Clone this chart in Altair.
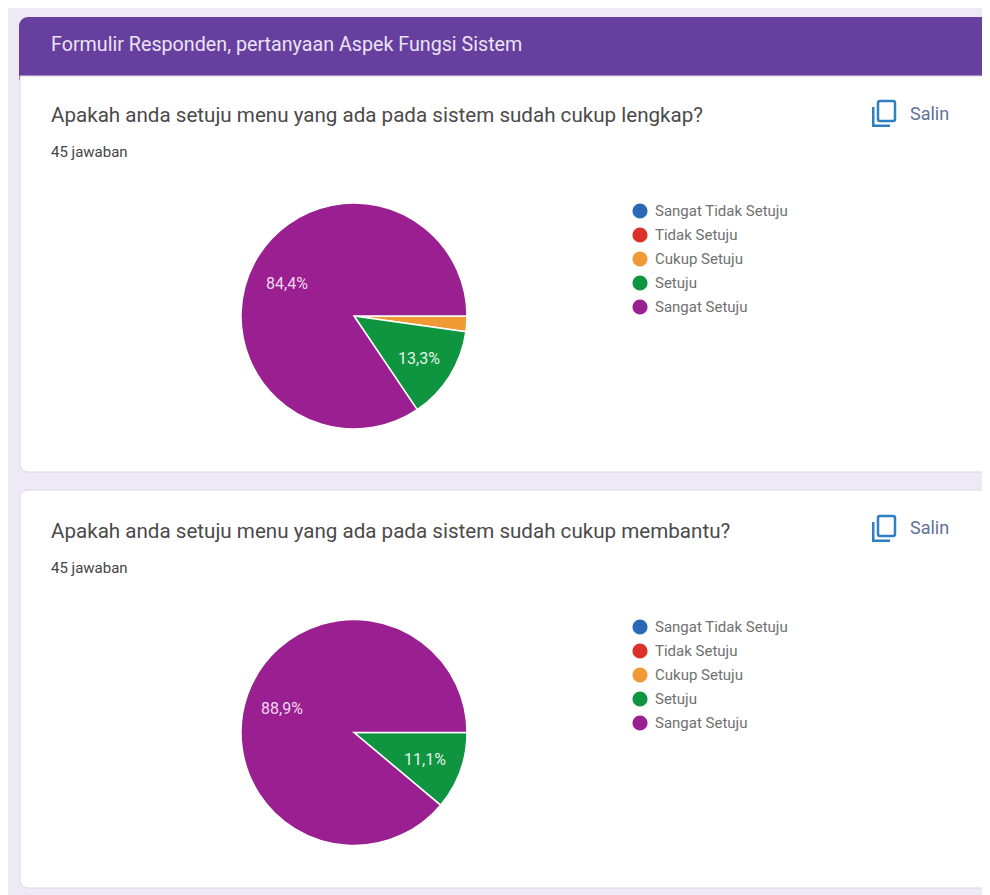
import altair as alt
import pandas as pd
import math

categories = ["Sangat Tidak Setuju", "Tidak Setuju", "Cukup Setuju", "Setuju", "Sangat Setuju"]
colors = ["#2a69b8", "#dc3028", "#f09a35", "#0f9440", "#9a1f90"]
q1_counts = [0, 0, 1, 6, 38]
q2_counts = [0, 0, 0, 5, 40]
total = 45
header = "Formulir Responden, pertanyaan Aspek Fungsi Sistem"
q1_title = "Apakah anda setuju menu yang ada pada sistem sudah cukup lengkap?"
q2_title = "Apakah anda setuju menu yang ada pada sistem sudah cukup membantu?"
answers = "45 jawaban"
copy_label = "Salin"
q1_labels = ["84,4%", "13,3%"]
q2_labels = ["88,9%", "11,1%"]

FONT = "Roboto"
OX, OY = 8, 8  # page margin


def X(v):
    return alt.value(v - OX)


def Y(v):
    return alt.value(v - OY)


one = pd.DataFrame({"a": [0]})


def box(x0, y0, x1, y1, **mk):
    return alt.Chart(one).mark_rect(**mk).encode(x=X(x0), x2=X(x1), y=Y(y0), y2=Y(y1))


def label(txt, x, y, size, color, **mk):
    return alt.Chart(pd.DataFrame({"t": [txt]})).mark_text(
        font=FONT, fontSize=size, color=color, align=mk.pop("align", "left"), baseline="middle", **mk
    ).encode(x=X(x), y=Y(y), text="t:N")


def pie(counts, cy, lx, ly):
    df = pd.DataFrame({"cat": categories, "n": counts, "o": range(len(categories))})
    return alt.Chart(df).mark_arc(outerRadius=113, stroke="white", strokeWidth=1.5).encode(
        x=X(354),
        y=Y(cy),
        theta=alt.Theta("n:Q", stack=True,
                        scale=alt.Scale(domain=[0, total], range=[math.pi / 2, math.pi * 2.5])),
        order=alt.Order("o:Q"),
        color=alt.Color("cat:N", sort=categories,
                        scale=alt.Scale(domain=categories, range=colors),
                        legend=alt.Legend(title=None, orient="none", legendX=lx - OX, legendY=ly - OY,
                                          symbolType="circle", symbolSize=230, symbolStrokeWidth=0,
                                          labelFont=FONT, labelFontSize=15, labelColor="#707070",
                                          rowPadding=8, labelOffset=7, labelLimit=220)),
    )


def icon(dy):
    c = "#2f7fc4"
    return [
        box(878, 101 + dy, 895, 121 + dy, fill="white", stroke=c, strokeWidth=2.5, cornerRadius=2),
        box(872, 107 + dy, 874.5, 127 + dy, fill=c),
        box(872, 124.5 + dy, 890, 127 + dy, fill=c),
    ]


layers = [
    box(8, 8, 982, 895, fill="#efe9f5"),
    box(19, 17, 990, 80, fill="#673f9f", cornerRadiusTopLeft=9, cornerRadiusTopRight=9),
    box(20, 76, 990, 472, fill="white", cornerRadiusBottomLeft=8, cornerRadiusBottomRight=8,
        stroke="#dcd8e2", strokeWidth=1),
    box(20, 490, 990, 888, fill="white", cornerRadius=8, stroke="#dcd8e2", strokeWidth=1),
    label(header, 51, 45, 19.7, "#ebe3f3"),
    label(q1_title, 51, 116, 20.6, "#4a4a4a"),
    label(answers, 51, 152, 15, "#444444"),
    label(q2_title, 51, 532, 20.6, "#4a4a4a"),
    label(answers, 51, 568, 15, "#444444"),
    label(copy_label, 910, 115, 18, "#5f7199"),
    label(copy_label, 910, 529, 18, "#5f7199"),
    *icon(0),
    *icon(415),
    pie(q1_counts, 316, 632, 203),
    pie(q2_counts, 732.5, 632, 619),
    label(q1_labels[0], 287, 284, 16, "#f3d8ef", align="center"),
    label(q1_labels[1], 419, 359, 16, "#e3f3e6", align="center"),
    label(q2_labels[0], 282, 709, 16, "#f3d8ef", align="center"),
    label(q2_labels[1], 425, 760, 16, "#e3f3e6", align="center"),
]

chart = alt.layer(*layers).resolve_scale(color="independent", theta="independent").properties(
    width=974, height=887, padding=0,
    autosize=alt.AutoSizeParams(type="none"),
    background="white",
).configure_view(stroke=None)

chart.save("out.html", embed_options={"renderer": "svg", "actions": False})
